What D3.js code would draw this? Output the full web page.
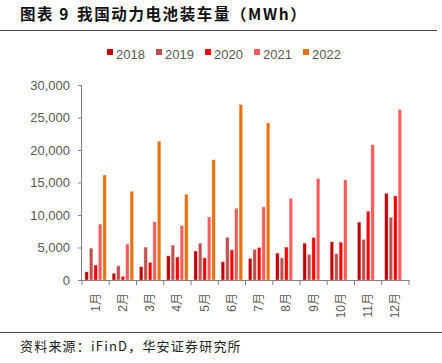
<!DOCTYPE html>
<html lang="zh">
<head>
<meta charset="utf-8">
<title>我国动力电池装车量</title>
<script src="https://d3js.org/d3.v7.min.js"></script>
<style>
  body { margin: 0; background: #fff; }
  svg { font-family: "Liberation Sans", Arial, "Noto Sans CJK SC", sans-serif; }
  .title { font-family: "Noto Sans CJK SC", sans-serif; font-weight: bold; font-size: 15.5px; fill: #111; letter-spacing: 1.6px; }
  .axis text { fill: #595959; font-size: 13px; }
  .axis path, .axis line { stroke: #808080; }
  .legend text { fill: #595959; font-size: 13px; }
  .source { font-family: "Noto Sans CJK SC", sans-serif; font-size: 13px; fill: #222; letter-spacing: 1.2px; }
</style>
</head>
<body>
<div id="chart"></div>
<script>
// data
var months = ["1月","2月","3月","4月","5月","6月","7月","8月","9月","10月","11月","12月"];
var years = ["2018","2019","2020","2021","2022"];
var v2018 = [1270, 1030, 2050, 3730, 4450, 2810, 3320, 4140, 5670, 5880, 8900, 13340];
var v2019 = [4900, 2200, 5060, 5370, 5670, 6570, 4700, 3420, 3940, 4040, 6240, 9660];
var v2020 = [2300, 570, 2700, 3530, 3420, 4630, 5010, 5060, 6550, 5830, 10580, 12930];
var v2021 = [8600, 5520, 8950, 8390, 9710, 11040, 11250, 12580, 15640, 15390, 20810, 26230];
var v2022 = [16150, 13650, 21370, 13190, 18510, 27000, 24180, null, null, null, null, null];
var yTicks = [0, 5000, 10000, 15000, 20000, 25000, 30000];
var colors = ["#C00000", "#C0504D", "#FF0000", "#FF5B5B", "#E8710A"];

var series = [v2018, v2019, v2020, v2021, v2022];
var rows = months.map(function(m, i) {
  return { month: m, vals: years.map(function(y, k) { return { year: y, v: series[k][i] }; }) };
});

var W = 442, H = 363;
var margin = { left: 82, right: 33, top: 85, bottom: 83 };

var svg = d3.select("#chart").append("svg")
  .attr("width", W).attr("height", H);

// title + rules
var title = svg.append("text").attr("class", "title")
  .attr("x", 20).attr("y", 20);
title.append("tspan").text("图表 9");
title.append("tspan").attr("dx", 7).text("我国动力电池装车量（MWh）");
svg.append("line").attr("x1", 0).attr("x2", 437).attr("y1", 30.5).attr("y2", 30.5)
  .attr("stroke", "#444").attr("stroke-width", 1);
svg.append("line").attr("x1", 0).attr("x2", 442).attr("y1", 332.5).attr("y2", 332.5)
  .attr("stroke", "#444").attr("stroke-width", 1);
svg.append("text").attr("class", "source")
  .attr("x", 20).attr("y", 351)
  .text("资料来源：iFinD，华安证券研究所");

// scales
var x0 = d3.scaleBand().domain(months)
  .range([margin.left, W - margin.right])
  .paddingInner(0.14).paddingOuter(0.07);
var x1 = d3.scaleBand().domain(years)
  .range([0, x0.bandwidth()]).padding(0.22);
var y = d3.scaleLinear().domain([0, 30000])
  .range([H - margin.bottom, margin.top]);
var color = d3.scaleOrdinal().domain(years).range(colors);

// y axis
svg.append("g").attr("class", "axis")
  .attr("transform", "translate(" + margin.left + ",0)")
  .call(d3.axisLeft(y).tickValues(yTicks).tickFormat(d3.format(",")).tickSize(4).tickPadding(8))
  .call(function(g) { g.select(".domain").attr("d", "M-0.5," + y(30000) + "V" + y(0)); });

// bars
svg.append("g").selectAll("g").data(rows).join("g")
  .attr("transform", function(d) { return "translate(" + x0(d.month) + ",0)"; })
  .selectAll("rect").data(function(d) { return d.vals.filter(function(e) { return e.v != null; }); })
  .join("rect")
  .attr("x", function(d) { return x1(d.year); })
  .attr("width", x1.bandwidth())
  .attr("y", function(d) { return y(d.v); })
  .attr("height", function(d) { return y(0) - y(d.v); })
  .attr("fill", function(d) { return color(d.year); })
  .attr("stroke", "rgba(255,255,255,0.45)")
  .attr("stroke-width", 0.8);

// x axis with ticks at group boundaries
var xg = svg.append("g").attr("class", "axis")
  .attr("transform", "translate(0," + y(0) + ")");
var plotW = W - margin.right - margin.left;
xg.append("line").attr("x1", margin.left - 4).attr("x2", W - margin.right + 0.5)
  .attr("y1", 0.5).attr("y2", 0.5).attr("stroke", "#808080").attr("stroke-width", 1.2);
xg.selectAll(".tk").data(d3.range(months.length + 1)).join("line")
  .attr("class", "tk")
  .attr("x1", function(i) { return margin.left + i * plotW / months.length; })
  .attr("x2", function(i) { return margin.left + i * plotW / months.length; })
  .attr("y1", 0).attr("y2", 5);
xg.selectAll(".lbl").data(months).join("text")
  .attr("class", "lbl")
  .attr("transform", function(d) {
    return "translate(" + (x0(d) + x0.bandwidth() / 2 + 4) + ",13) rotate(-90)";
  })
  .attr("text-anchor", "end")
  .style("font-size", "12px")
  .text(function(d) { return d; });

// legend
var lg = svg.append("g").attr("class", "legend")
  .attr("transform", "translate(107,54)");
var item = lg.selectAll("g").data(years).join("g")
  .attr("transform", function(d, i) { return "translate(" + (i * 49) + ",0)"; });
item.append("rect").attr("x", 0).attr("y", -5).attr("width", 6).attr("height", 6)
  .attr("fill", function(d) { return color(d); });
item.append("text").attr("x", 9).attr("y", 4.5).text(function(d) { return d; });
</script>
</body>
</html>
